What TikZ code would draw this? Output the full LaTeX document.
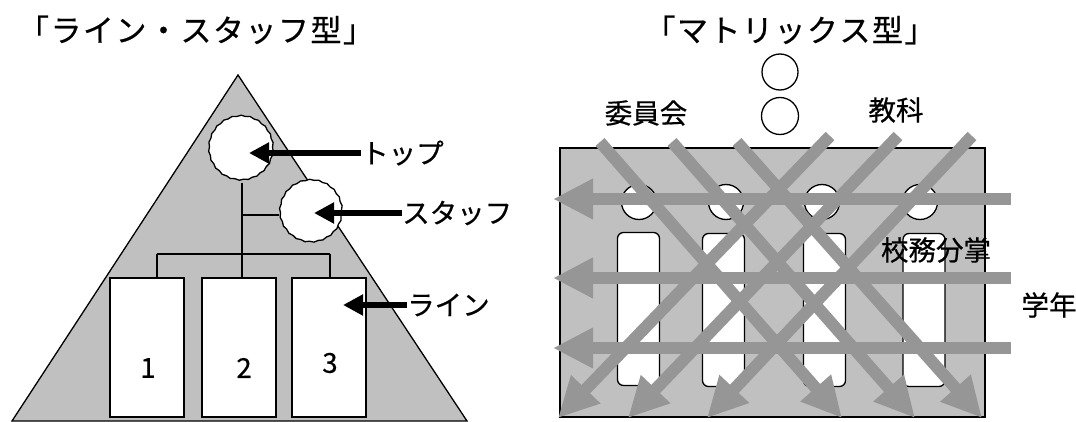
\documentclass[tikz,border=0pt]{standalone}
\usepackage{fontspec}
\setmainfont{Noto Sans CJK JP}[UprightFeatures={FakeBold=0.5}]
\usetikzlibrary{arrows.meta,decorations.pathmorphing}
\definecolor{fillgray}{HTML}{C0C0C0}
\definecolor{arrowgray}{HTML}{969696}
\makeatletter
\newcommand\tracked[2]{\@tfor\@c:=#2\do{\makebox[#1]{\@c}}}
\makeatother
\begin{document}
\begin{tikzpicture}[x=1pt,y=-1pt,
  jp/.style={font=\fontsize{27.5}{32}\selectfont, inner sep=0pt},
  ttl/.style={font=\fontsize{31}{34}\selectfont, inner sep=0pt},
  box/.style={draw, line width=1.4pt, fill=white, inner sep=0pt},
  wavy/.style={draw, line width=1.3pt, fill=white, circle, inner sep=0pt,
    decorate, decoration={snake, amplitude=0.5pt, segment length=9pt}},
  conn/.style={line width=1.3pt},
  blk/.style={line width=5.5pt, -{Triangle[length=20pt,width=20pt]}},
  garrow/.style={draw=arrowgray, line width=12pt, -{Triangle[length=40pt,width=38pt]}},
  smallc/.style={draw, circle, fill=white, line width=1.3pt, inner sep=0pt},
  slot/.style={draw, fill=white, line width=1.3pt, rounded corners=6pt, inner sep=0pt,
    minimum width=42pt, minimum height=153pt}]
\useasboundingbox (0,0) rectangle (1076,422);

% ---------- left: line-staff ----------
\node[ttl] (t1) at (196,30) {\tracked{32.5pt}{「ライン・スタッフ型」}};
\draw[fill=fillgray, line width=1.3pt] (238,75) -- (12,421) -- (467,421) -- cycle;

\node[wavy, minimum size=64pt] (top) at (241,150) {};
\node[wavy, minimum size=62pt] (staff) at (311,213) {};
\node[box, minimum width=74pt, minimum height=139pt] (b1) at (147,347.5) {};
\node[box, minimum width=74pt, minimum height=139pt] (b2) at (239,347.5) {};
\node[box, minimum width=74pt, minimum height=139pt] (b3) at (329,347.5) {};
\node[jp] (n1) at (148,368) {1};
\node[jp] (n2) at (244,368) {2};
\node[jp] (n3) at (330,363) {3};

\coordinate (j1) at (242,215);
\coordinate (bl) at (157,254);
\coordinate (br) at (330,254);
\draw[conn] (top.south -| j1) -- (j1 |- b2.north);
\draw[conn] (j1) -- (j1 -| staff.west);
\draw[conn] (bl) -- (br);
\draw[conn] (bl) -- (bl |- b1.north);
\draw[conn] (br) -- (br |- b3.north);

\node[jp, anchor=west] (ltop) at (361,153) {トップ};
\node[jp, anchor=west] (lstaff) at (402,213) {スタッフ};
\node[jp, anchor=west] (lline) at (407,305) {ライン};
\coordinate (ttop) at (249,153);
\coordinate (tstaff) at (314,213);
\coordinate (tline) at (343,305);
\draw[blk] (ltop.west) -- (ttop);
\draw[blk] (lstaff.west) -- (tstaff);
\draw[blk] (lline.west) -- (tline);

% ---------- right: matrix ----------
\node[ttl] (t2) at (790,30) {\tracked{32.5pt}{「マトリックス型」}};
\node[smallc, minimum size=36pt] (o1) at (780,72) {};
\node[smallc, minimum size=37pt] (o2) at (780,116) {};
\node[jp] (iin) at (646,113) {委員会};
\node[jp] (kyo) at (896,110) {教科};

\node[draw, fill=fillgray, line width=1.3pt, inner sep=0pt, minimum width=425pt, minimum height=269pt] (mat) at (772.5,282.5) {};
\node[smallc, minimum size=35pt] (c1) at (639,202) {};
\node[smallc, minimum size=35pt] (c2) at (726,202) {};
\node[smallc, minimum size=35pt] (c3) at (822,202) {};
\node[smallc, minimum size=35pt] (c4) at (920,202) {};
\node[slot] (s1) at (638.5,309) {};
\node[slot] (s2) at (723.5,310) {};
\node[slot] (s3) at (824.5,310) {};
\node[slot] (s4) at (924,310) {};

\coordinate (h1s) at (1011,199); \coordinate (h1e) at (553,199);
\coordinate (h2s) at (1011,278); \coordinate (h2e) at (553,278);
\coordinate (h3s) at (1011,348); \coordinate (h3e) at (553,348);
\coordinate (r1s) at (600,142); \coordinate (r1e) at (842,418);
\coordinate (r2s) at (672,142); \coordinate (r2e) at (915,418);
\coordinate (r3s) at (737,142); \coordinate (r3e) at (982,418);
\coordinate (l1s) at (830,136); \coordinate (l1e) at (558,418);
\coordinate (l2s) at (898,136); \coordinate (l2e) at (628,418);
\coordinate (l3s) at (972,136); \coordinate (l3e) at (707,418);
\foreach \a in {h1,h2,h3,r1,r2,r3,l1,l2,l3}
  \draw[garrow] (\a s) -- (\a e);

\node[jp] (koumu) at (936,250) {校務分掌};
\node[jp] (gaku) at (1049,305) {学年};
\end{tikzpicture}
\end{document}
